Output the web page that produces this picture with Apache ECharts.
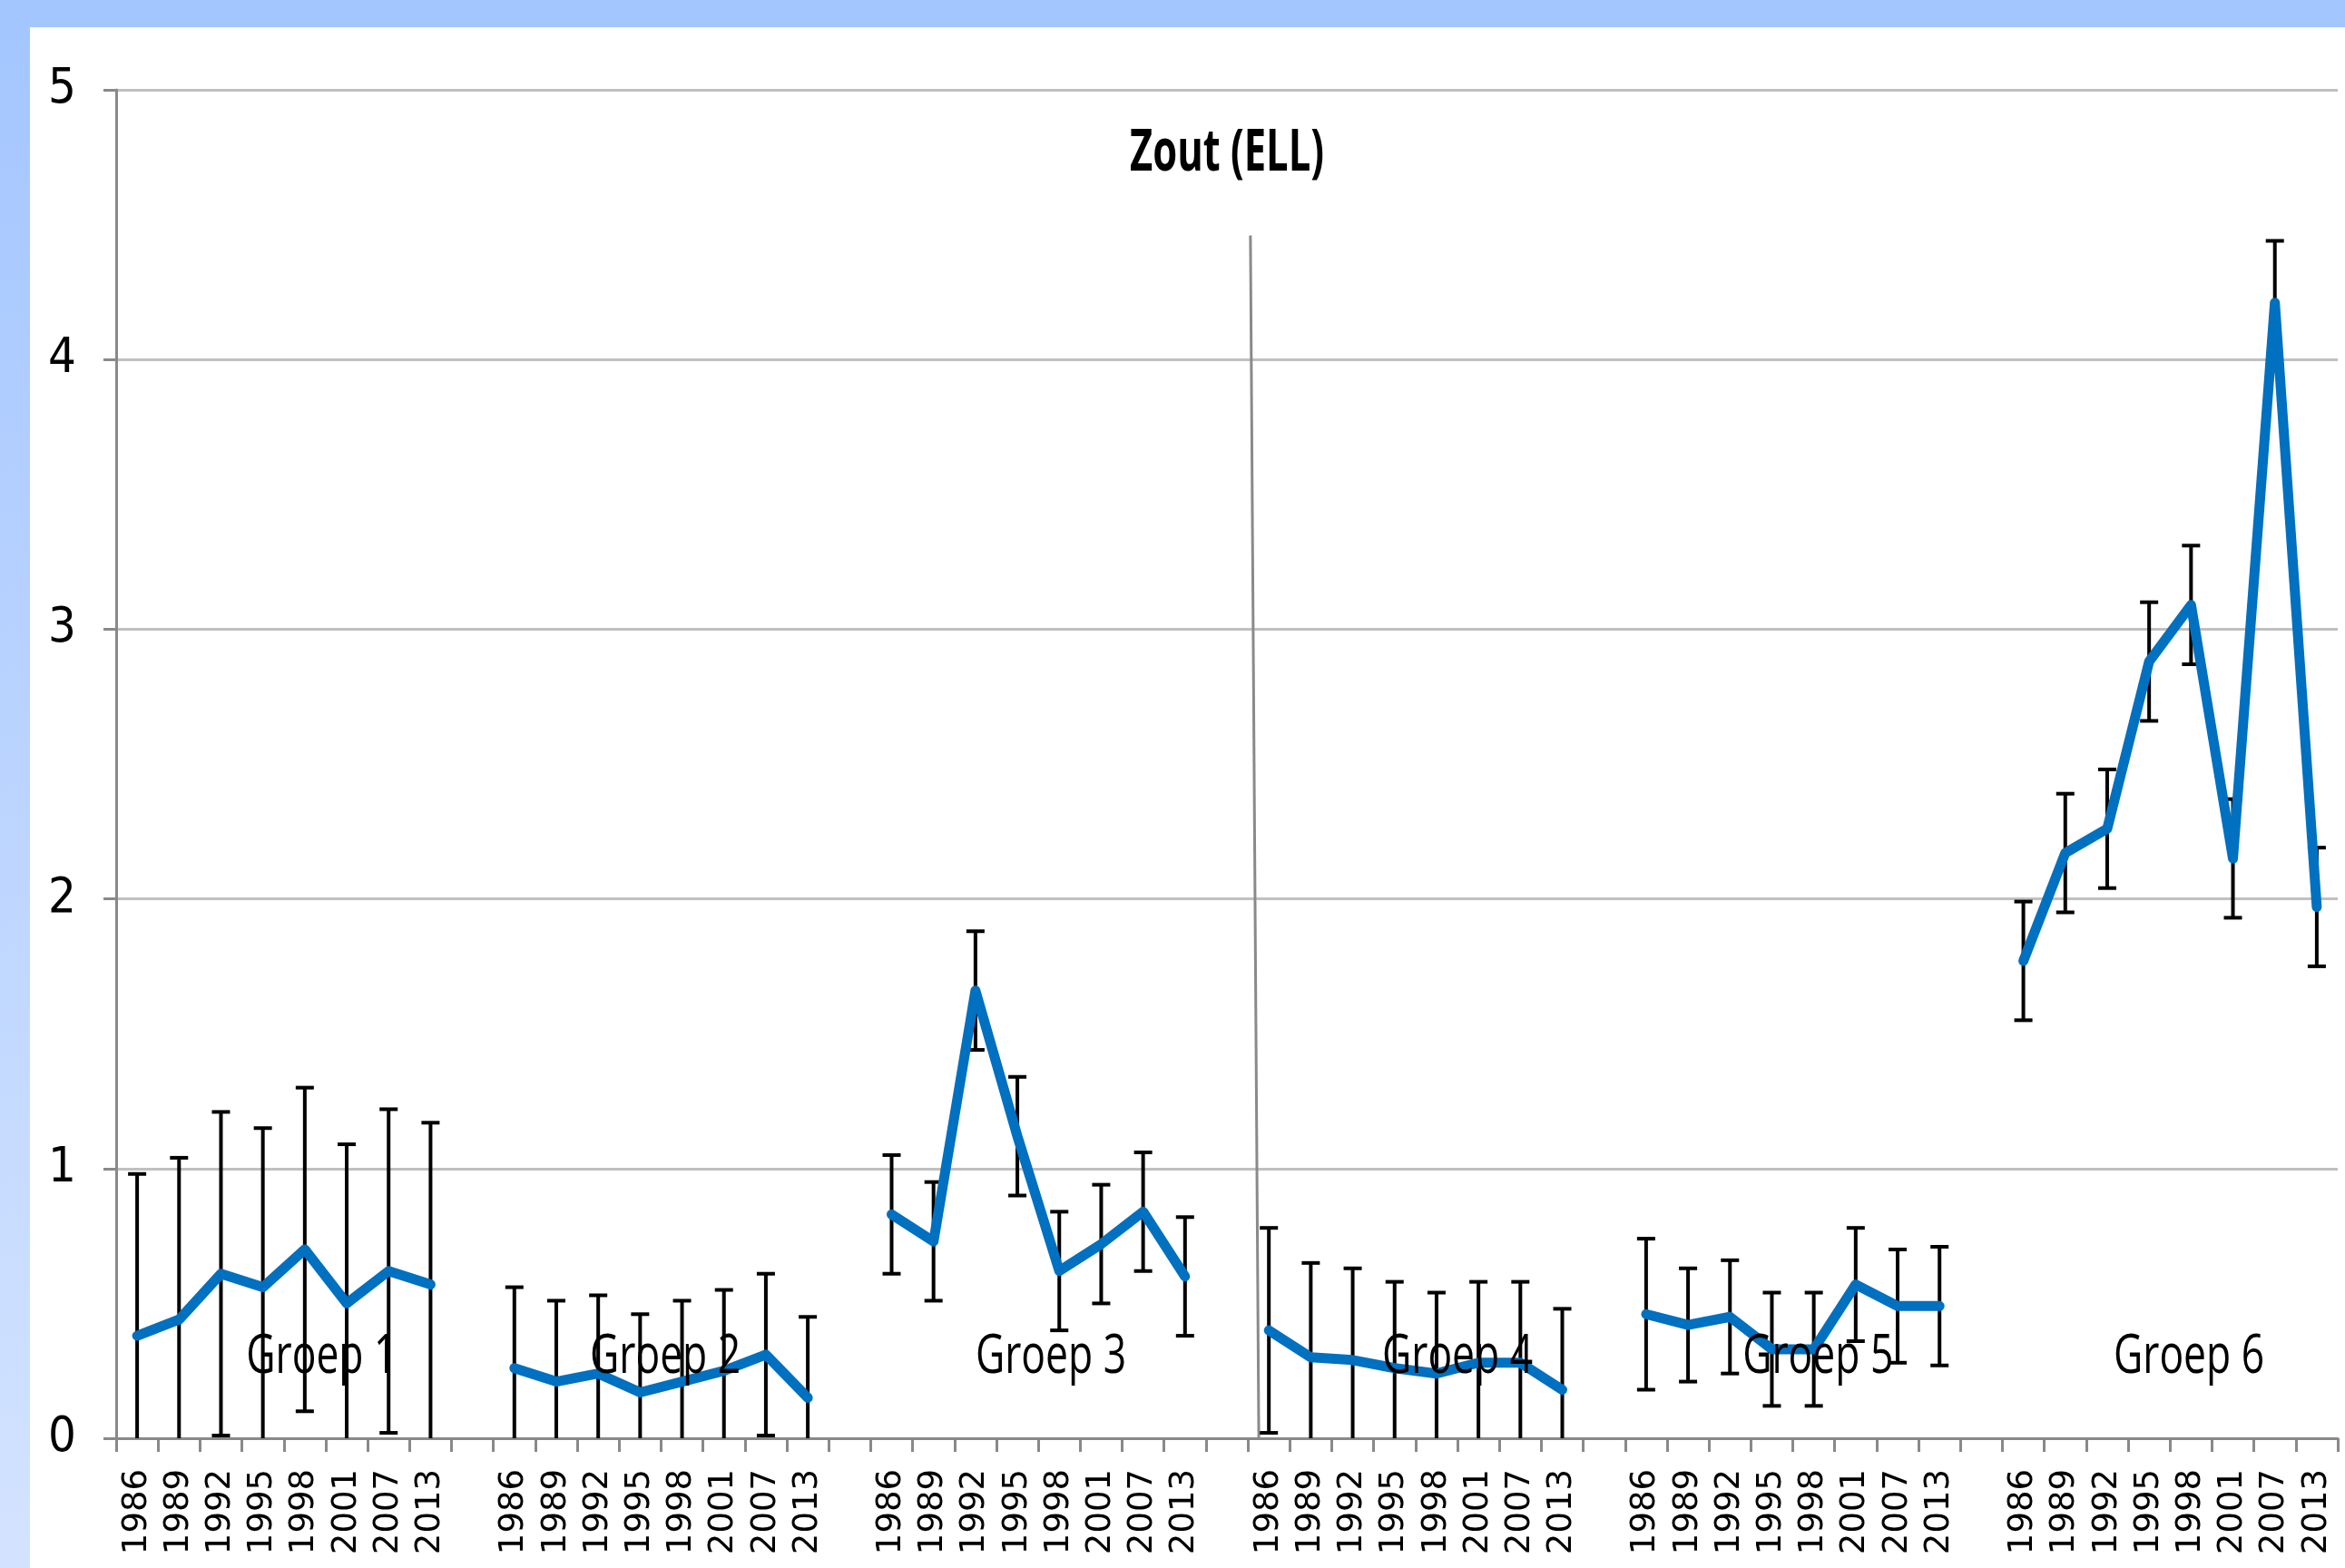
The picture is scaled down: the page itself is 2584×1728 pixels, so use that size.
<!DOCTYPE html>
<html>
<head>
<meta charset="utf-8">
<script src="https://cdn.jsdelivr.net/npm/echarts@6/dist/echarts.min.js"></script>
<style>
  html, body { margin: 0; padding: 0; background: #ffffff; }
  #topStrip { position: absolute; left: 0; top: 0; width: 2584px; height: 30px; background: #a4c6ff; }
  #leftStrip { position: absolute; left: 0; top: 30px; width: 33px; height: 1698px; background: linear-gradient(to bottom, #a4c6ff, #d3e3ff); }
  #main { position: absolute; left: 0; top: 0; width: 2584px; height: 1728px; }
</style>
</head>
<body>
<div id="topStrip"></div>
<div id="leftStrip"></div>
<div id="main"></div>
<script>
// ---- data ----
const titleText = 'Zout (ELL)';
const years = ['1986', '1989', '1992', '1995', '1998', '2001', '2007', '2013'];
const groupNames = ['Groep 1', 'Groep 2', 'Groep 3', 'Groep 4', 'Groep 5', 'Groep 6'];
const yTicks = [0, 1, 2, 3, 4, 5];

const g1Mean = [0.38, 0.44, 0.61, 0.56, 0.70, 0.50, 0.62, 0.57];
const g1Err  = [0.60, 0.60, 0.60, 0.59, 0.60, 0.59, 0.60, 0.60];
const g2Mean = [0.26, 0.21, 0.24, 0.17, 0.21, 0.25, 0.31, 0.15];
const g2Err  = [0.30, 0.30, 0.29, 0.29, 0.30, 0.30, 0.30, 0.30];
const g3Mean = [0.83, 0.73, 1.66, 1.12, 0.62, 0.72, 0.84, 0.60];
const g3Err  = [0.22, 0.22, 0.22, 0.22, 0.22, 0.22, 0.22, 0.22];
const g4Mean = [0.40, 0.30, 0.29, 0.26, 0.24, 0.28, 0.28, 0.18];
const g4Err  = [0.38, 0.35, 0.34, 0.32, 0.30, 0.30, 0.30, 0.30];
const g5Mean = [0.46, 0.42, 0.45, 0.33, 0.33, 0.57, 0.49, 0.49];
const g5Err  = [0.28, 0.21, 0.21, 0.21, 0.21, 0.21, 0.21, 0.22];
const g6Mean = [1.77, 2.17, 2.26, 2.88, 3.09, 2.15, 4.21, 1.97];
const g6Err  = [0.22, 0.22, 0.22, 0.22, 0.22, 0.22, 0.23, 0.22];

// label anchor positions (fractional category index, value)
const groupLabelX = [4.4, 12.6, 21.8, 31.5, 40.1, 48.95];
const groupLabelY = 0.30;
// divider line end points (fractional category index, value)
const dividerX = [26.56, 26.76];
const dividerY = [4.46, 0];

const groupMeans = [g1Mean, g2Mean, g3Mean, g4Mean, g5Mean, g6Mean];
const groupErrs = [g1Err, g2Err, g3Err, g4Err, g5Err, g6Err];

// ---- build categories: 8 years per group, one empty gap between groups ----
const categories = [];
const groupStart = [];
groupMeans.forEach((g, gi) => {
  if (gi > 0) categories.push('');
  groupStart.push(categories.length);
  years.forEach(y => categories.push(y));
});

const series = [];
const errData = [];
groupMeans.forEach((means, gi) => {
  const data = means.map((v, i) => [groupStart[gi] + i, v]);
  means.forEach((v, i) => errData.push([groupStart[gi] + i, v, groupErrs[gi][i]]));
  series.push({
    type: 'line', xAxisIndex: 0, yAxisIndex: 0, data: data,
    symbol: 'none', z: 4, silent: true,
    lineStyle: { color: '#0070C0', width: 11, cap: 'round', join: 'round' }
  });
});

series.unshift({
  type: 'custom', xAxisIndex: 0, yAxisIndex: 0, data: errData, clip: true, z: 3, silent: true,
  encode: { x: 0, y: 1 },
  renderItem: function (params, api) {
    const x = api.value(0), m = api.value(1), e = api.value(2);
    const top = api.coord([x, m + e]);
    const bot = api.coord([x, m - e]);
    const hw = 10;
    const st = { stroke: '#000', lineWidth: 4 };
    return {
      type: 'group', children: [
        { type: 'line', shape: { x1: top[0], y1: top[1], x2: bot[0], y2: bot[1] }, style: st },
        { type: 'line', shape: { x1: top[0] - hw, y1: top[1], x2: top[0] + hw, y2: top[1] }, style: st },
        { type: 'line', shape: { x1: bot[0] - hw, y1: bot[1], x2: bot[0] + hw, y2: bot[1] }, style: st }
      ]
    };
  }
});

series.push({
  type: 'line', xAxisIndex: 1, yAxisIndex: 0, silent: true, symbol: 'none', z: 2,
  data: dividerX.map((x, i) => [x, dividerY[i]]),
  lineStyle: { color: '#8a8a8a', width: 3 }
});

const chart = echarts.init(document.getElementById('main'), null, { renderer: 'canvas' });
chart.setOption({
  backgroundColor: 'transparent',
  animation: false,
  grid: { left: 128, right: 8, top: 99, bottom: 143, containLabel: false },
  xAxis: [{
    type: 'category', data: categories, boundaryGap: true,
    axisLine: { show: true, lineStyle: { color: '#898989', width: 3 } },
    axisTick: { show: true, interval: 0, length: 15, lineStyle: { color: '#898989', width: 3 } },
    axisLabel: { interval: 0, rotate: 90, margin: 34, color: '#000', fontSize: 37, fontFamily: 'DejaVu Sans' },
    splitLine: { show: false }
  }, {
    type: 'value', min: -0.5, max: categories.length - 0.5, show: false
  }],
  yAxis: {
    type: 'value', min: yTicks[0], max: yTicks[yTicks.length - 1], interval: 1,
    axisLine: { show: true, onZero: false, lineStyle: { color: '#898989', width: 3 } },
    axisTick: { show: true, length: 14, lineStyle: { color: '#898989', width: 3 } },
    axisLabel: { margin: 44, color: '#000', fontSize: 54,
      fontFamily: "'DejaVu Sans Condensed', 'DejaVu Sans', sans-serif" },
    splitLine: { show: true, lineStyle: { color: '#c0c0c0', width: 3 } }
  },
  series: series
});

// text annotations placed through the chart's own scales
const graphics = [];
const titlePos = chart.convertToPixel({ xAxisIndex: 1, yAxisIndex: 0 }, [(categories.length - 1) / 2, 0]);
graphics.push({
  type: 'text', x: titlePos[0], y: 170, scaleX: 0.68, z: 20, silent: true,
  style: { text: titleText, fill: '#000', font: "bold 64px 'Open Sans', sans-serif",
    textAlign: 'center', textVerticalAlign: 'middle', align: 'center', verticalAlign: 'middle' }
});
groupNames.forEach((n, i) => {
  const p = chart.convertToPixel({ xAxisIndex: 1, yAxisIndex: 0 }, [groupLabelX[i], groupLabelY]);
  graphics.push({
    type: 'text', x: p[0], y: p[1], scaleX: 0.74, z: 20, silent: true,
    style: { text: n, fill: '#000', font: "60px 'Open Sans', sans-serif",
      textAlign: 'center', textVerticalAlign: 'middle', align: 'center', verticalAlign: 'middle' }
  });
});
chart.setOption({ graphic: graphics });
</script>
</body>
</html>
